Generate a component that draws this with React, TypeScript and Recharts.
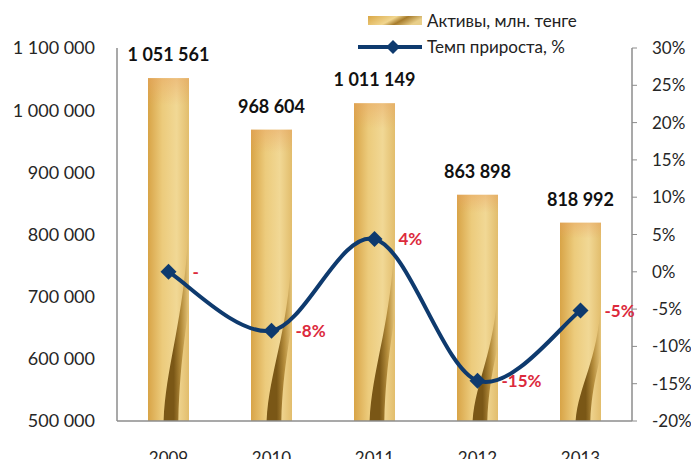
import { ComposedChart, Bar, Line, XAxis, YAxis, LabelList } from 'recharts'

const years = ['2009', '2010', '2011', '2012', '2013']
const assets = [1051561, 968604, 1011149, 863898, 818992]
const growth = [0, -7.9, 4.4, -14.6, -5.2]
const growthLabels = ['-', '-8%', '4%', '-15%', '-5%']
const leftTicks = [500000, 600000, 700000, 800000, 900000, 1000000, 1100000]
const rightTicks = [-20, -15, -10, -5, 0, 5, 10, 15, 20, 25, 30]

const data = years.map((year, i) => ({
  year,
  assets: assets[i],
  growth: growth[i],
  label: growthLabels[i],
}))

const FONT = "Lato, 'Open Sans', sans-serif"
const NAVY = '#0e3a6e'
const RED = '#dc2a3c'

const spaced = (v: number) => String(v).replace(/\B(?=(\d{3})+(?!\d))/g, ' ')

// Excel-style smooth line (catmull-rom)
const smoothCurve = (context: any) => {
  let pts: number[][] = []
  return {
    areaStart() {},
    areaEnd() {},
    lineStart() {
      pts = []
    },
    point(x: number, y: number) {
      pts.push([+x, +y])
    },
    lineEnd() {
      if (!pts.length) return
      context.moveTo(pts[0][0], pts[0][1])
      for (let i = 0; i < pts.length - 1; i++) {
        const p0 = pts[i - 1] || pts[i]
        const p1 = pts[i]
        const p2 = pts[i + 1]
        const p3 = pts[i + 2] || p2
        context.bezierCurveTo(
          p1[0] + (p2[0] - p0[0]) / 6,
          p1[1] + (p2[1] - p0[1]) / 6,
          p2[0] - (p3[0] - p1[0]) / 6,
          p2[1] - (p3[1] - p1[1]) / 6,
          p2[0],
          p2[1]
        )
      }
    },
  }
}

const GoldBar = (props: any) => {
  const { x, y, width: w, height: h } = props
  const b = y + h
  const twist = `M${x + w},${b - 0.6 * h} C${x + w * 0.92},${b - 0.3 * h} ${x + 0.45 * w},${b - 0.18 * h} ${x + 0.38 * w},${b}
    L${x + 0.74 * w},${b} C${x + 0.78 * w},${b - 0.2 * h} ${x + w},${b - 0.3 * h} ${x + w},${b - 0.36 * h} Z`
  return (
    <g>
      <rect x={x} y={y} width={w} height={h} fill="url(#goldH)" />
      <rect x={x} y={y} width={w} height={h} fill="url(#goldTop)" />
      <path d={twist} fill="url(#goldDark)" />
    </g>
  )
}

const Diamond = (props: any) => {
  const { cx, cy } = props
  if (cx == null || cy == null) return null
  const r = 8
  return <path d={`M${cx},${cy - r} L${cx + r},${cy} L${cx},${cy + r} L${cx - r},${cy} Z`} fill={NAVY} />
}

const GrowthLabel = (props: any) => {
  const { x, y, value } = props
  return (
    <text x={x + 24} y={y} dy="0.35em" fill={RED} fontSize={17} fontWeight="bold" fontFamily={FONT}>
      {value}
    </text>
  )
}

const AssetLabel = (props: any) => {
  const { x, y, width, value } = props
  return (
    <text x={x + width / 2} y={y - 17} textAnchor="middle" fill="#111" fontSize={18} fontWeight="bold" fontFamily={FONT}>
      {spaced(value)}
    </text>
  )
}

const LegendBox = () => (
  <div
    style={{
      position: 'absolute',
      top: 8,
      left: 356,
      fontFamily: FONT,
      fontSize: 17,
      color: '#222',
      lineHeight: '26px',
    }}
  >
    <div style={{ display: 'flex', alignItems: 'center' }}>
      <svg width={66} height={26}>
        <defs>
          <linearGradient id="legGold" x1="0" y1="0" x2="1" y2="0.3">
            <stop offset="0" stopColor="#d9a746" />
            <stop offset="0.5" stopColor="#f1d68f" />
            <stop offset="0.7" stopColor="#a77c2c" />
            <stop offset="1" stopColor="#e9cf8a" />
          </linearGradient>
        </defs>
        <rect x={12} y={8} width={54} height={9} fill="url(#legGold)" />
      </svg>
      <span style={{ marginLeft: 5 }}>Активы, млн. тенге</span>
    </div>
    <div style={{ display: 'flex', alignItems: 'center' }}>
      <svg width={66} height={26}>
        <line x1={2} y1={13} x2={66} y2={13} stroke={NAVY} strokeWidth={4} />
        <path d="M37,6 L44,13 L37,20 L30,13 Z" fill={NAVY} />
      </svg>
      <span style={{ marginLeft: 5 }}>Темп прироста, %</span>
    </div>
  </div>
)

export default function App() {
  return (
    <div style={{ position: 'relative', margin: -8, width: 699, height: 467, background: '#fff', overflow: 'hidden' }}>
      <div
        style={{
          position: 'absolute',
          top: -13,
          left: 0,
          width: 680,
          textAlign: 'center',
          fontFamily: "'Open Sans', sans-serif",
          fontWeight: 'bold',
          fontSize: 20,
          lineHeight: '20px',
          color: '#111',
        }}
      >
        Динамика активов
      </div>
      <ComposedChart width={699} height={467} data={data} margin={{ top: 48, right: 0, bottom: 0, left: 0 }}>
        <defs>
          <linearGradient id="goldH" x1="0" y1="0" x2="1" y2="0">
            <stop offset="0" stopColor="#d8a447" />
            <stop offset="0.35" stopColor="#eccb7c" />
            <stop offset="0.7" stopColor="#f1d895" />
            <stop offset="1" stopColor="#e2bd6c" />
          </linearGradient>
          <linearGradient id="goldTop" x1="0" y1="0" x2="0" y2="1">
            <stop offset="0" stopColor="#e8a060" stopOpacity={0.45} />
            <stop offset="0.08" stopColor="#e8a060" stopOpacity={0} />
            <stop offset="1" stopColor="#e8a060" stopOpacity={0} />
          </linearGradient>
          <linearGradient id="goldDark" x1="0" y1="0" x2="1" y2="0">
            <stop offset="0.4" stopColor="#7a5716" />
            <stop offset="0.7" stopColor="#b58d3c" />
            <stop offset="1" stopColor="#e6c67c" />
          </linearGradient>
        </defs>
        <XAxis
          dataKey="year"
          height={46}
          tickLine={false}
          tickSize={0}
          tickMargin={31}
          axisLine={{ stroke: '#8c8c8c', strokeWidth: 1.5 }}
          tick={{ fill: '#262626', fontSize: 17, fontFamily: FONT }}
        />
        <YAxis
          yAxisId="left"
          orientation="left"
          width={117}
          domain={[500000, 1100000]}
          ticks={leftTicks}
          tickFormatter={spaced}
          tickLine={false}
          tickSize={0}
          tickMargin={22}
          axisLine={{ stroke: '#8c8c8c', strokeWidth: 1.5 }}
          tick={{ fill: '#262626', fontSize: 18, fontFamily: FONT }}
          allowDataOverflow
        />
        <YAxis
          yAxisId="right"
          orientation="right"
          width={67}
          domain={[-20, 30]}
          ticks={rightTicks}
          tickFormatter={(v: number) => `${v}%`}
          tickLine={{ stroke: '#8c8c8c' }}
          tickSize={5}
          tickMargin={15}
          axisLine={{ stroke: '#8c8c8c', strokeWidth: 1.5 }}
          tick={{ fill: '#262626', fontSize: 17, fontFamily: FONT, textAnchor: 'start' }}
        />
        <Bar yAxisId="left" dataKey="assets" barSize={41} shape={<GoldBar />} isAnimationActive={false}>
          <LabelList dataKey="assets" content={<AssetLabel />} />
        </Bar>
        <Line
          yAxisId="right"
          dataKey="growth"
          type={smoothCurve as any}
          stroke={NAVY}
          strokeWidth={4}
          dot={<Diamond />}
          activeDot={false}
          isAnimationActive={false}
        >
          <LabelList dataKey="label" content={<GrowthLabel />} />
        </Line>
      </ComposedChart>
      <LegendBox />
    </div>
  )
}
